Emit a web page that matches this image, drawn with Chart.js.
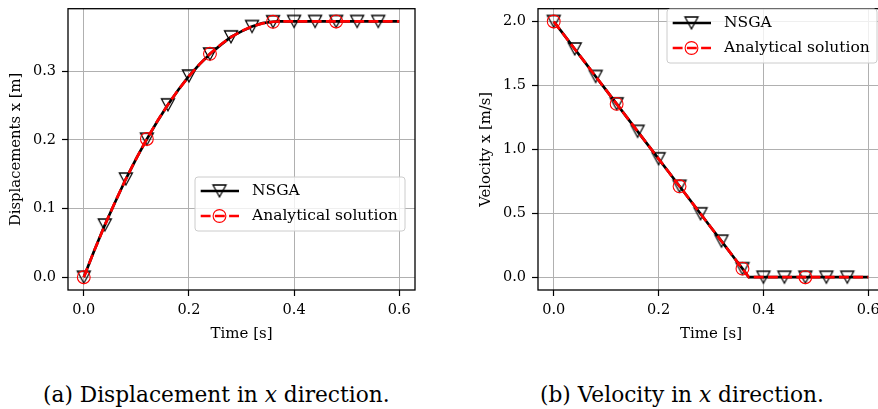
<!DOCTYPE html>
<html>
<head>
<meta charset="utf-8">
<script src="https://cdn.jsdelivr.net/npm/chart.js@4.4.1/dist/chart.umd.min.js"></script>
<style>
html, body { margin: 0; padding: 0; background: #fff; }
body { width: 878px; height: 409px; overflow: hidden; position: relative; }
#dispBox { position: absolute; left: 0; top: 0; width: 440px; height: 350px; }
#velBox { position: absolute; left: 440px; top: 0; width: 460px; height: 350px; }
.cap { position: absolute; top: 384px; font-family: 'DejaVu Serif', serif; font-size: 21.7px; line-height: 1; color: #000; white-space: nowrap; }
</style>
</head>
<body>
<div id="dispBox"><canvas id="disp" width="440" height="350"></canvas></div>
<div id="velBox"><canvas id="vel" width="460" height="350"></canvas></div>
<div class="cap" style="left:43px">(a) Displacement in <i>x</i> direction.</div>
<div class="cap" style="left:540px">(b) Velocity in <i>x</i> direction.</div>
<script>
// sample times [s]
var time = [0, 0.02, 0.04, 0.06, 0.08, 0.10, 0.12, 0.14, 0.16, 0.18, 0.20, 0.22, 0.24, 0.26, 0.28, 0.30,
            0.32, 0.34, 0.36, 0.372, 0.38, 0.40, 0.42, 0.44, 0.46, 0.48, 0.50, 0.52, 0.54, 0.56, 0.58, 0.60];

// displacement [m]
var nsgaDisp = [0, 0.039, 0.076, 0.110, 0.143, 0.173, 0.201, 0.227, 0.251, 0.273, 0.293, 0.310, 0.325, 0.338,
                0.350, 0.358, 0.365, 0.370, 0.372, 0.3724, 0.3724, 0.3724, 0.3724, 0.3724, 0.3724, 0.3724,
                0.3724, 0.3724, 0.3724, 0.3724, 0.3724, 0.3724];
var exactDisp = [0, 0.0389, 0.0757, 0.1103, 0.1428, 0.1732, 0.2013, 0.2274, 0.2513, 0.2730, 0.2926, 0.3100,
                 0.3253, 0.3385, 0.3495, 0.3584, 0.3651, 0.3696, 0.3720, 0.3724, 0.3724, 0.3724, 0.3724, 0.3724,
                 0.3724, 0.3724, 0.3724, 0.3724, 0.3724, 0.3724, 0.3724, 0.3724];

// velocity [m/s]
var nsgaVel = [2.000, 1.893, 1.785, 1.678, 1.570, 1.463, 1.356, 1.248, 1.141, 1.033, 0.926, 0.819, 0.711, 0.604,
               0.496, 0.389, 0.282, 0.174, 0.067, 0, 0, 0, 0, 0, 0, 0, 0, 0, 0, 0, 0, 0];
var exactVel = [2.0, 1.8926, 1.7852, 1.6778, 1.5704, 1.4630, 1.3556, 1.2482, 1.1408, 1.0334, 0.9260, 0.8186,
                0.7112, 0.6038, 0.4964, 0.3890, 0.2816, 0.1742, 0.0668, 0, 0, 0, 0, 0, 0, 0, 0, 0, 0, 0, 0, 0];

var timeTicks = [0.0, 0.2, 0.4, 0.6];
var dispTicks = [0.0, 0.1, 0.2, 0.3];
var velTicks = [0.0, 0.5, 1.0, 1.5, 2.0];
var seriesNames = ['NSGA', 'Analytical solution'];

var FONT = "'DejaVu Serif', serif";
Chart.defaults.font.family = FONT;
Chart.defaults.font.size = 14.5;
Chart.defaults.color = '#000';

var LW = 2.7;
var DASH = [9.9, 4.3];

// hollow downward triangle
function triangleMarker() {
    var c = document.createElement('canvas');
    c.width = 18;
    c.height = 18;
    var g = c.getContext('2d');
    g.strokeStyle = '#000';
    g.lineWidth = 1.3;
    g.beginPath();
    g.moveTo(2.5, 3);
    g.lineTo(15.5, 3);
    g.lineTo(9, 15);
    g.closePath();
    g.stroke();
    return c;
}
var triangle = triangleMarker();

// marker only on every n-th sample time, up to a last time
function markEvery(step, last, r) {
    return function(ctx) {
        var t = time[ctx.dataIndex];
        var k = t / step;
        return (Math.abs(k - Math.round(k)) < 1e-6 && t <= last + 1e-9) ? r : 0;
    };
}

function pts(values) {
    return time.map(function(t, i) { return {x: t, y: values[i]}; });
}

function datasets(nsga, exact) {
    return [{
        label: seriesNames[1],
        data: pts(exact),
        borderColor: '#ff0000',
        borderWidth: LW,
        borderDash: DASH,
        pointStyle: 'circle',
        pointRadius: markEvery(0.12, 0.48, 6.4),
        pointBorderColor: '#ff0000',
        pointBackgroundColor: 'rgba(0,0,0,0)',
        pointBorderWidth: 1.1,
        tension: 0
    }, {
        label: seriesNames[0],
        data: pts(nsga),
        borderColor: '#000',
        borderWidth: LW,
        pointStyle: triangle,
        pointRadius: markEvery(0.04, 0.56, 6),
        tension: 0
    }];
}

// axes frame
var framePlugin = {
    id: 'frame',
    afterDatasetsDraw: function(chart) {
        var a = chart.chartArea, g = chart.ctx;
        g.save();
        g.strokeStyle = '#000';
        g.lineWidth = 1.3;
        g.strokeRect(a.left, a.top, a.right - a.left, a.bottom - a.top);
        g.restore();
    }
};

// legend box with line + marker samples
var keyPlugin = {
    id: 'key',
    afterDraw: function(chart, args, opts) {
        var g = chart.ctx, x = opts.x, y = opts.y, w = 210, h = 54, r = 3;
        g.save();
        g.beginPath();
        g.moveTo(x + r, y);
        g.arcTo(x + w, y, x + w, y + h, r);
        g.arcTo(x + w, y + h, x, y + h, r);
        g.arcTo(x, y + h, x, y, r);
        g.arcTo(x, y, x + w, y, r);
        g.closePath();
        g.fillStyle = 'rgba(255,255,255,0.8)';
        g.fill();
        g.strokeStyle = '#cccccc';
        g.lineWidth = 1;
        g.stroke();

        var rows = [y + 14, y + 39];
        // NSGA
        g.strokeStyle = '#000';
        g.lineWidth = LW;
        g.beginPath();
        g.moveTo(x + 5.7, rows[0]);
        g.lineTo(x + 44, rows[0]);
        g.stroke();
        g.drawImage(triangle, x + 24.5 - 9, rows[0] - 9);
        // analytical
        g.strokeStyle = '#ff0000';
        g.setLineDash(DASH);
        g.beginPath();
        g.moveTo(x + 5.7, rows[1]);
        g.lineTo(x + 44, rows[1]);
        g.stroke();
        g.setLineDash([]);
        g.lineWidth = 1.1;
        g.beginPath();
        g.arc(x + 24.5, rows[1], 6.4, 0, Math.PI * 2);
        g.stroke();

        g.fillStyle = '#000';
        g.font = '15.5px ' + FONT;
        g.textBaseline = 'middle';
        g.textAlign = 'left';
        g.fillText(seriesNames[0], x + 57, rows[0]);
        g.fillText(seriesNames[1], x + 57, rows[1]);
        g.restore();
    }
};

function fixed(size) {
    return function(scale) {
        if (scale.isHorizontal()) scale.height = size; else scale.width = size;
        scale.paddingTop = 0;
        scale.paddingBottom = 0;
        scale.paddingLeft = 0;
        scale.paddingRight = 0;
    };
}

function useTicks(list) {
    return function(scale) {
        scale.ticks = list.map(function(v) { return {value: v}; });
    };
}

var grid = {
    color: '#b0b0b0',
    lineWidth: 1,
    tickColor: '#000',
    tickWidth: 1.2,
    tickLength: 6
};

function makeChart(id, nsga, exact, yTicks, yMin, yMax, yTitle, yWidth, yTitlePad, padRight, key) {
    return new Chart(document.getElementById(id), {
        type: 'line',
        data: {datasets: datasets(nsga, exact)},
        options: {
            responsive: false,
            animation: false,
            events: [],
            devicePixelRatio: 1,
            layout: {padding: {left: 0, right: padRight, top: 3, bottom: 5}},
            plugins: {legend: {display: false}, tooltip: {enabled: false}, key: key},
            scales: {
                x: {
                    type: 'linear',
                    min: -0.03,
                    max: 0.63,
                    afterBuildTicks: useTicks(timeTicks),
                    afterFit: fixed(55),
                    grid: grid,
                    border: {display: false},
                    ticks: {padding: 5.5, maxRotation: 0, callback: function(v) { return v.toFixed(1); }},
                    title: {display: true, text: 'Time [s]', font: {size: 15}, padding: {top: 0, bottom: 2}}
                },
                y: {
                    type: 'linear',
                    min: yMin,
                    max: yMax,
                    afterBuildTicks: useTicks(yTicks),
                    afterFit: fixed(yWidth),
                    grid: grid,
                    border: {display: false},
                    ticks: {padding: 6, callback: function(v) { return v.toFixed(1); }},
                    title: {display: true, text: yTitle, font: {size: 14.8}, padding: {top: yTitlePad, bottom: 0}}
                }
            }
        },
        plugins: [framePlugin, keyPlugin]
    });
}

makeChart('disp', nsgaDisp, exactDisp, dispTicks, -0.0186, 0.391, 'Displacements x [m]', 68, 7.1, 25, {x: 195, y: 177});
makeChart('vel', nsgaVel, exactVel, velTicks, -0.1, 2.1, 'Velocity x [m/s]', 98, 37.1, 16, {x: 227, y: 9});
</script>
</body>
</html>
